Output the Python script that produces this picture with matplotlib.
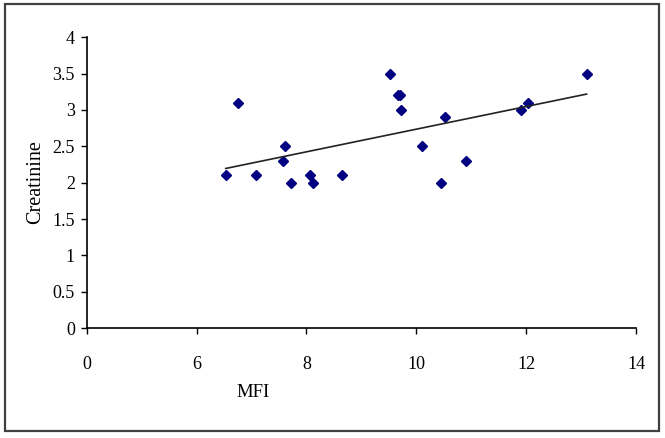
import numpy as np
import matplotlib
matplotlib.use("Agg")
from matplotlib import pyplot as plt
from matplotlib.patches import Rectangle

# MFI vs creatinine
mfi = [6.53, 6.75, 7.09, 7.61, 7.58, 7.72, 8.06, 8.12, 8.65, 9.52,
       9.67, 9.71, 9.72, 10.53, 10.11, 10.45, 10.91, 11.90, 12.03, 13.10]
creat = [2.1, 3.1, 2.1, 2.5, 2.3, 2.0, 2.1, 2.0, 2.1, 3.5,
         3.2, 3.2, 3.0, 2.9, 2.5, 2.0, 2.3, 3.0, 3.1, 3.5]

# the x axis starts at 4 but its first label reads "0"
xtick_pos = [4, 6, 8, 10, 12, 14]
xtick_lab = ["0", "6", "8", "10", "12", "14"]
ytick_pos = [0, 0.5, 1, 1.5, 2, 2.5, 3, 3.5, 4]
ytick_lab = ["0", "0.5", "1", "1.5", "2", "2.5", "3", "3.5", "4"]

plt.rcParams['font.family'] = ['Liberation Serif', 'DejaVu Serif']

fig = plt.figure(figsize=(6.65, 4.38), dpi=100)
ax = fig.add_axes([0.1304, 0.2511, 0.8260, 0.6637])

ax.plot(mfi, creat, linestyle='none', marker='D', markersize=5.3,
        color='#000080', markeredgecolor='#000080')

# linear trendline over the data range
k, b = np.polyfit(mfi, creat, 1)
xl = np.array([min(mfi), max(mfi)])
ax.plot(xl, k * xl + b, color='#222222', linewidth=1.2)

ax.set_xlim(4, 14)
ax.set_ylim(0, 4)
ax.set_xticks(xtick_pos)
ax.set_xticklabels(xtick_lab)
ax.set_yticks(ytick_pos)
ax.set_yticklabels(ytick_lab)
ax.tick_params(labelsize=13, length=4.5, width=1, colors='black')
ax.tick_params(axis='x', pad=16)
ax.tick_params(axis='y', pad=4)
for s in ['top', 'right']:
    ax.spines[s].set_visible(False)
for s in ['left', 'bottom']:
    ax.spines[s].set_linewidth(1.2)
    ax.spines[s].set_color('black')

fig.text(0.053, 0.585, "Creatinine", rotation=90, fontsize=14.5,
         ha='center', va='center')
fig.text(0.381, 0.103, "MFI", fontsize=13.5, ha='center', va='center')

# outer border around the whole picture
fig.patches.append(Rectangle((0.007, 0.0167), 0.9844, 0.9742, transform=fig.transFigure,
                             fill=False, edgecolor='#404040', linewidth=1.6))

fig.savefig("out.png", dpi=100)
